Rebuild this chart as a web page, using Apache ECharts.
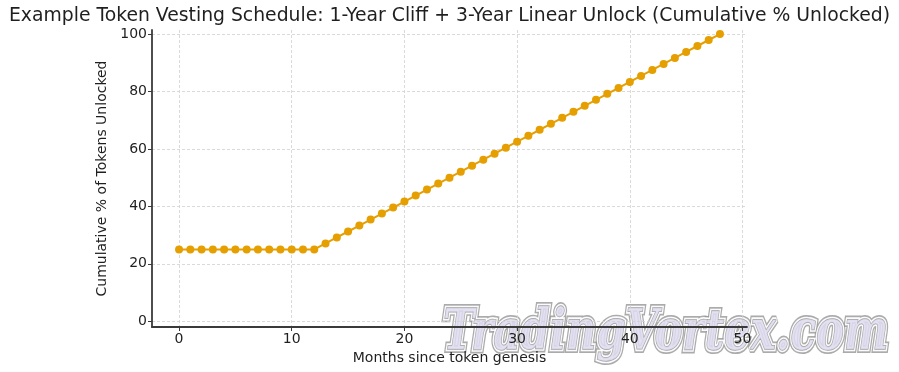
<!DOCTYPE html>
<html>
<head>
<meta charset="utf-8">
<script src="https://cdn.jsdelivr.net/npm/echarts@6/dist/echarts.min.js"></script>
<style>
html,body{margin:0;padding:0;background:#fff;}
#chart{width:899px;height:372px;}
</style>
</head>
<body>
<div id="chart"></div>
<script>
var months = [0,1,2,3,4,5,6,7,8,9,10,11,12,13,14,15,16,17,18,19,20,21,22,23,24,25,26,27,28,29,30,31,32,33,34,35,36,37,38,39,40,41,42,43,44,45,46,47,48];
var unlockedPct = [25,25,25,25,25,25,25,25,25,25,25,25,25,
  27.08,29.17,31.25,33.33,35.42,37.5,39.58,41.67,43.75,45.83,47.92,50,
  52.08,54.17,56.25,58.33,60.42,62.5,64.58,66.67,68.75,70.83,72.92,75,
  77.08,79.17,81.25,83.33,85.42,87.5,89.58,91.67,93.75,95.83,97.92,100];
var xTicks = [0,10,20,30,40,50];
var yTicks = [0,20,40,60,80,100];
var titleText = 'Example Token Vesting Schedule: 1-Year Cliff + 3-Year Linear Unlock (Cumulative % Unlocked)';
var xLabel = 'Months since token genesis';
var yLabel = 'Cumulative % of Tokens Unlocked';
var watermarkText = 'TradingVortex.com';

var font = 'DejaVu Sans';
var textColor = '#1f1f1f';
var wmFont = 'italic bold 42px "DejaVu Serif"';
function wmLayer(fill, stroke, lw) {
  return {
    type: 'text', x: 443, y: 306, scaleY: 1.35, silent: true,
    style: {x: 0, y: 0, text: watermarkText, font: wmFont, verticalAlign: 'top', align: 'left',
            fill: fill, stroke: stroke, lineWidth: lw}
  };
}
var chart = echarts.init(document.getElementById('chart'));
chart.setOption({
  animation: false,
  backgroundColor: '#ffffff',
  title: {
    text: titleText,
    left: 'center',
    top: 2,
    textStyle: {fontFamily: font, fontSize: 18.8, fontWeight: 'normal', color: textColor}
  },
  grid: {left: 152, right: 152, top: 30, bottom: 45},
  xAxis: {
    type: 'value',
    z: 10,
    min: -2.4, max: 50.4,
    name: xLabel,
    nameLocation: 'middle',
    nameGap: 22,
    nameTextStyle: {fontFamily: font, fontSize: 14, color: textColor},
    axisLine: {show: true, onZero: false, lineStyle: {color: '#3a3a3a', width: 1.8}},
    axisTick: {show: true, customValues: xTicks, length: 4, lineStyle: {color: '#3a3a3a'}},
    axisLabel: {customValues: xTicks, fontFamily: font, fontSize: 14, color: textColor, margin: 5},
    splitLine: {show: true, lineStyle: {color: '#d0d0d0', type: [3, 2], width: 0.8}}
  },
  yAxis: {
    type: 'value',
    z: 10,
    min: -2, max: 101.4,
    name: yLabel,
    nameLocation: 'middle',
    nameGap: 38,
    nameRotate: 90,
    nameTextStyle: {fontFamily: font, fontSize: 14, color: textColor},
    axisLine: {show: true, onZero: false, lineStyle: {color: '#3a3a3a', width: 1.8}},
    axisTick: {show: true, customValues: yTicks, length: 4, lineStyle: {color: '#3a3a3a'}},
    axisLabel: {customValues: yTicks, fontFamily: font, fontSize: 14, color: textColor, margin: 5},
    splitLine: {show: true, lineStyle: {color: '#d0d0d0', type: [3, 2], width: 0.8}}
  },
  series: [{
    type: 'line',
    data: months.map(function (m, i) { return [m, unlockedPct[i]]; }),
    symbol: 'circle',
    symbolSize: 8,
    lineStyle: {color: '#e69f00', width: 2},
    itemStyle: {color: '#e69f00'},
    z: 12
  }],
  graphic: {
    z: 1,
    elements: [
      wmLayer('rgba(0,0,0,0)', 'rgba(150,150,150,0.8)', 6),
      wmLayer('rgba(0,0,0,0)', 'rgba(255,255,255,0.95)', 3.5),
      wmLayer('rgba(222,220,240,0.85)', 'rgba(140,140,140,0.8)', 1)
    ]
  }
});
</script>
</body>
</html>
